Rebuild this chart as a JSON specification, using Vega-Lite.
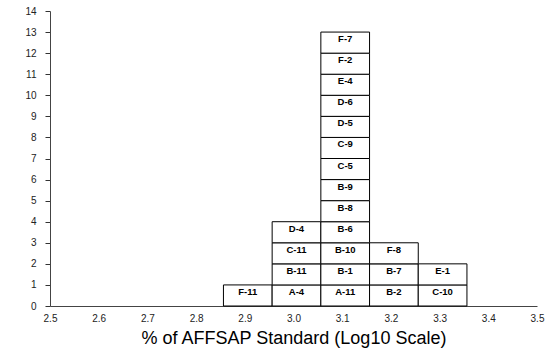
{
  "$schema": "https://vega.github.io/schema/vega-lite/v6.json",
  "autosize": "none",
  "width": 487,
  "height": 295,
  "padding": {"left": 50, "top": 11, "right": 13, "bottom": 49},
  "background": "white",
  "config": {
    "view": {"stroke": null},
    "font": "Liberation Sans"
  },
  "data": {
    "values": [
      {"sample": "F-11", "v": 2.9, "n": 1},
      {"sample": "A-4", "v": 3.0, "n": 1},
      {"sample": "B-11", "v": 3.0, "n": 1},
      {"sample": "C-11", "v": 3.0, "n": 1},
      {"sample": "D-4", "v": 3.0, "n": 1},
      {"sample": "A-11", "v": 3.1, "n": 1},
      {"sample": "B-1", "v": 3.1, "n": 1},
      {"sample": "B-10", "v": 3.1, "n": 1},
      {"sample": "B-6", "v": 3.1, "n": 1},
      {"sample": "B-8", "v": 3.1, "n": 1},
      {"sample": "B-9", "v": 3.1, "n": 1},
      {"sample": "C-5", "v": 3.1, "n": 1},
      {"sample": "C-9", "v": 3.1, "n": 1},
      {"sample": "D-5", "v": 3.1, "n": 1},
      {"sample": "D-6", "v": 3.1, "n": 1},
      {"sample": "E-4", "v": 3.1, "n": 1},
      {"sample": "F-2", "v": 3.1, "n": 1},
      {"sample": "F-7", "v": 3.1, "n": 1},
      {"sample": "B-2", "v": 3.2, "n": 1},
      {"sample": "B-7", "v": 3.2, "n": 1},
      {"sample": "F-8", "v": 3.2, "n": 1},
      {"sample": "C-10", "v": 3.3, "n": 1},
      {"sample": "E-1", "v": 3.3, "n": 1}
    ]
  },
  "transform": [
    {"bin": {"anchor": 2.45, "step": 0.1, "extent": [2.45, 3.55], "nice": false}, "field": "v", "as": ["lo", "hi"]},
    {"stack": "n", "groupby": ["v"], "sort": [{"field": "sample", "order": "ascending"}], "as": ["y0", "y1"]}
  ],
  "layer": [
    {
      "mark": {"type": "rect", "fill": "white", "stroke": "black", "strokeWidth": 1, "xOffset": 3, "x2Offset": 3},
      "encoding": {
        "x": {
          "field": "lo", "type": "quantitative",
          "scale": {"domain": [2.5, 3.5], "nice": false, "zero": false},
          "axis": {
            "values": [2.5, 2.6, 2.7, 2.8, 2.9, 3.0, 3.1, 3.2, 3.3, 3.4, 3.5],
            "format": ".1f",
            "ticks": false,
            "grid": false,
            "domainColor": "#444",
            "labelFontSize": 10,
            "labelColor": "#222",
            "labelPadding": 7,
            "labelFlush": false,
            "labelOverlap": false,
            "title": "% of AFFSAP Standard (Log10 Scale)",
            "titleFontSize": 18,
            "titleFontWeight": "normal",
            "titleColor": "black",
            "titlePadding": 6
          }
        },
        "x2": {"field": "hi"},
        "y": {
          "field": "y0", "type": "quantitative",
          "scale": {"domain": [0, 14], "nice": false},
          "axis": {
            "values": [0, 1, 2, 3, 4, 5, 6, 7, 8, 9, 10, 11, 12, 13, 14],
            "grid": false,
            "tickSize": 5,
            "tickColor": "#333",
            "domainColor": "#444",
            "labelFontSize": 10,
            "labelColor": "#222",
            "labelPadding": 9,
            "labelOverlap": false,
            "labelFlush": false,
            "title": null
          }
        },
        "y2": {"field": "y1"}
      }
    },
    {
      "mark": {"type": "text", "fontWeight": "bold", "fontSize": 9.5, "baseline": "middle", "dy": 7, "dx": 3, "color": "black"},
      "encoding": {
        "x": {
          "field": "v", "type": "quantitative",
          "axis": {
            "values": [2.5, 2.6, 2.7, 2.8, 2.9, 3.0, 3.1, 3.2, 3.3, 3.4, 3.5],
            "format": ".1f",
            "ticks": false,
            "grid": false,
            "domainColor": "#444",
            "labelFontSize": 10,
            "labelColor": "#222",
            "labelPadding": 7,
            "labelFlush": false,
            "labelOverlap": false,
            "title": "% of AFFSAP Standard (Log10 Scale)",
            "titleFontSize": 18,
            "titleFontWeight": "normal",
            "titleColor": "black",
            "titlePadding": 6
          }
        },
        "y": {
          "field": "y1", "type": "quantitative",
          "axis": {
            "values": [0, 1, 2, 3, 4, 5, 6, 7, 8, 9, 10, 11, 12, 13, 14],
            "grid": false,
            "tickSize": 5,
            "tickColor": "#333",
            "domainColor": "#444",
            "labelFontSize": 10,
            "labelColor": "#222",
            "labelPadding": 9,
            "labelOverlap": false,
            "labelFlush": false,
            "title": null
          }
        },
        "text": {"field": "sample"}
      }
    }
  ]
}
